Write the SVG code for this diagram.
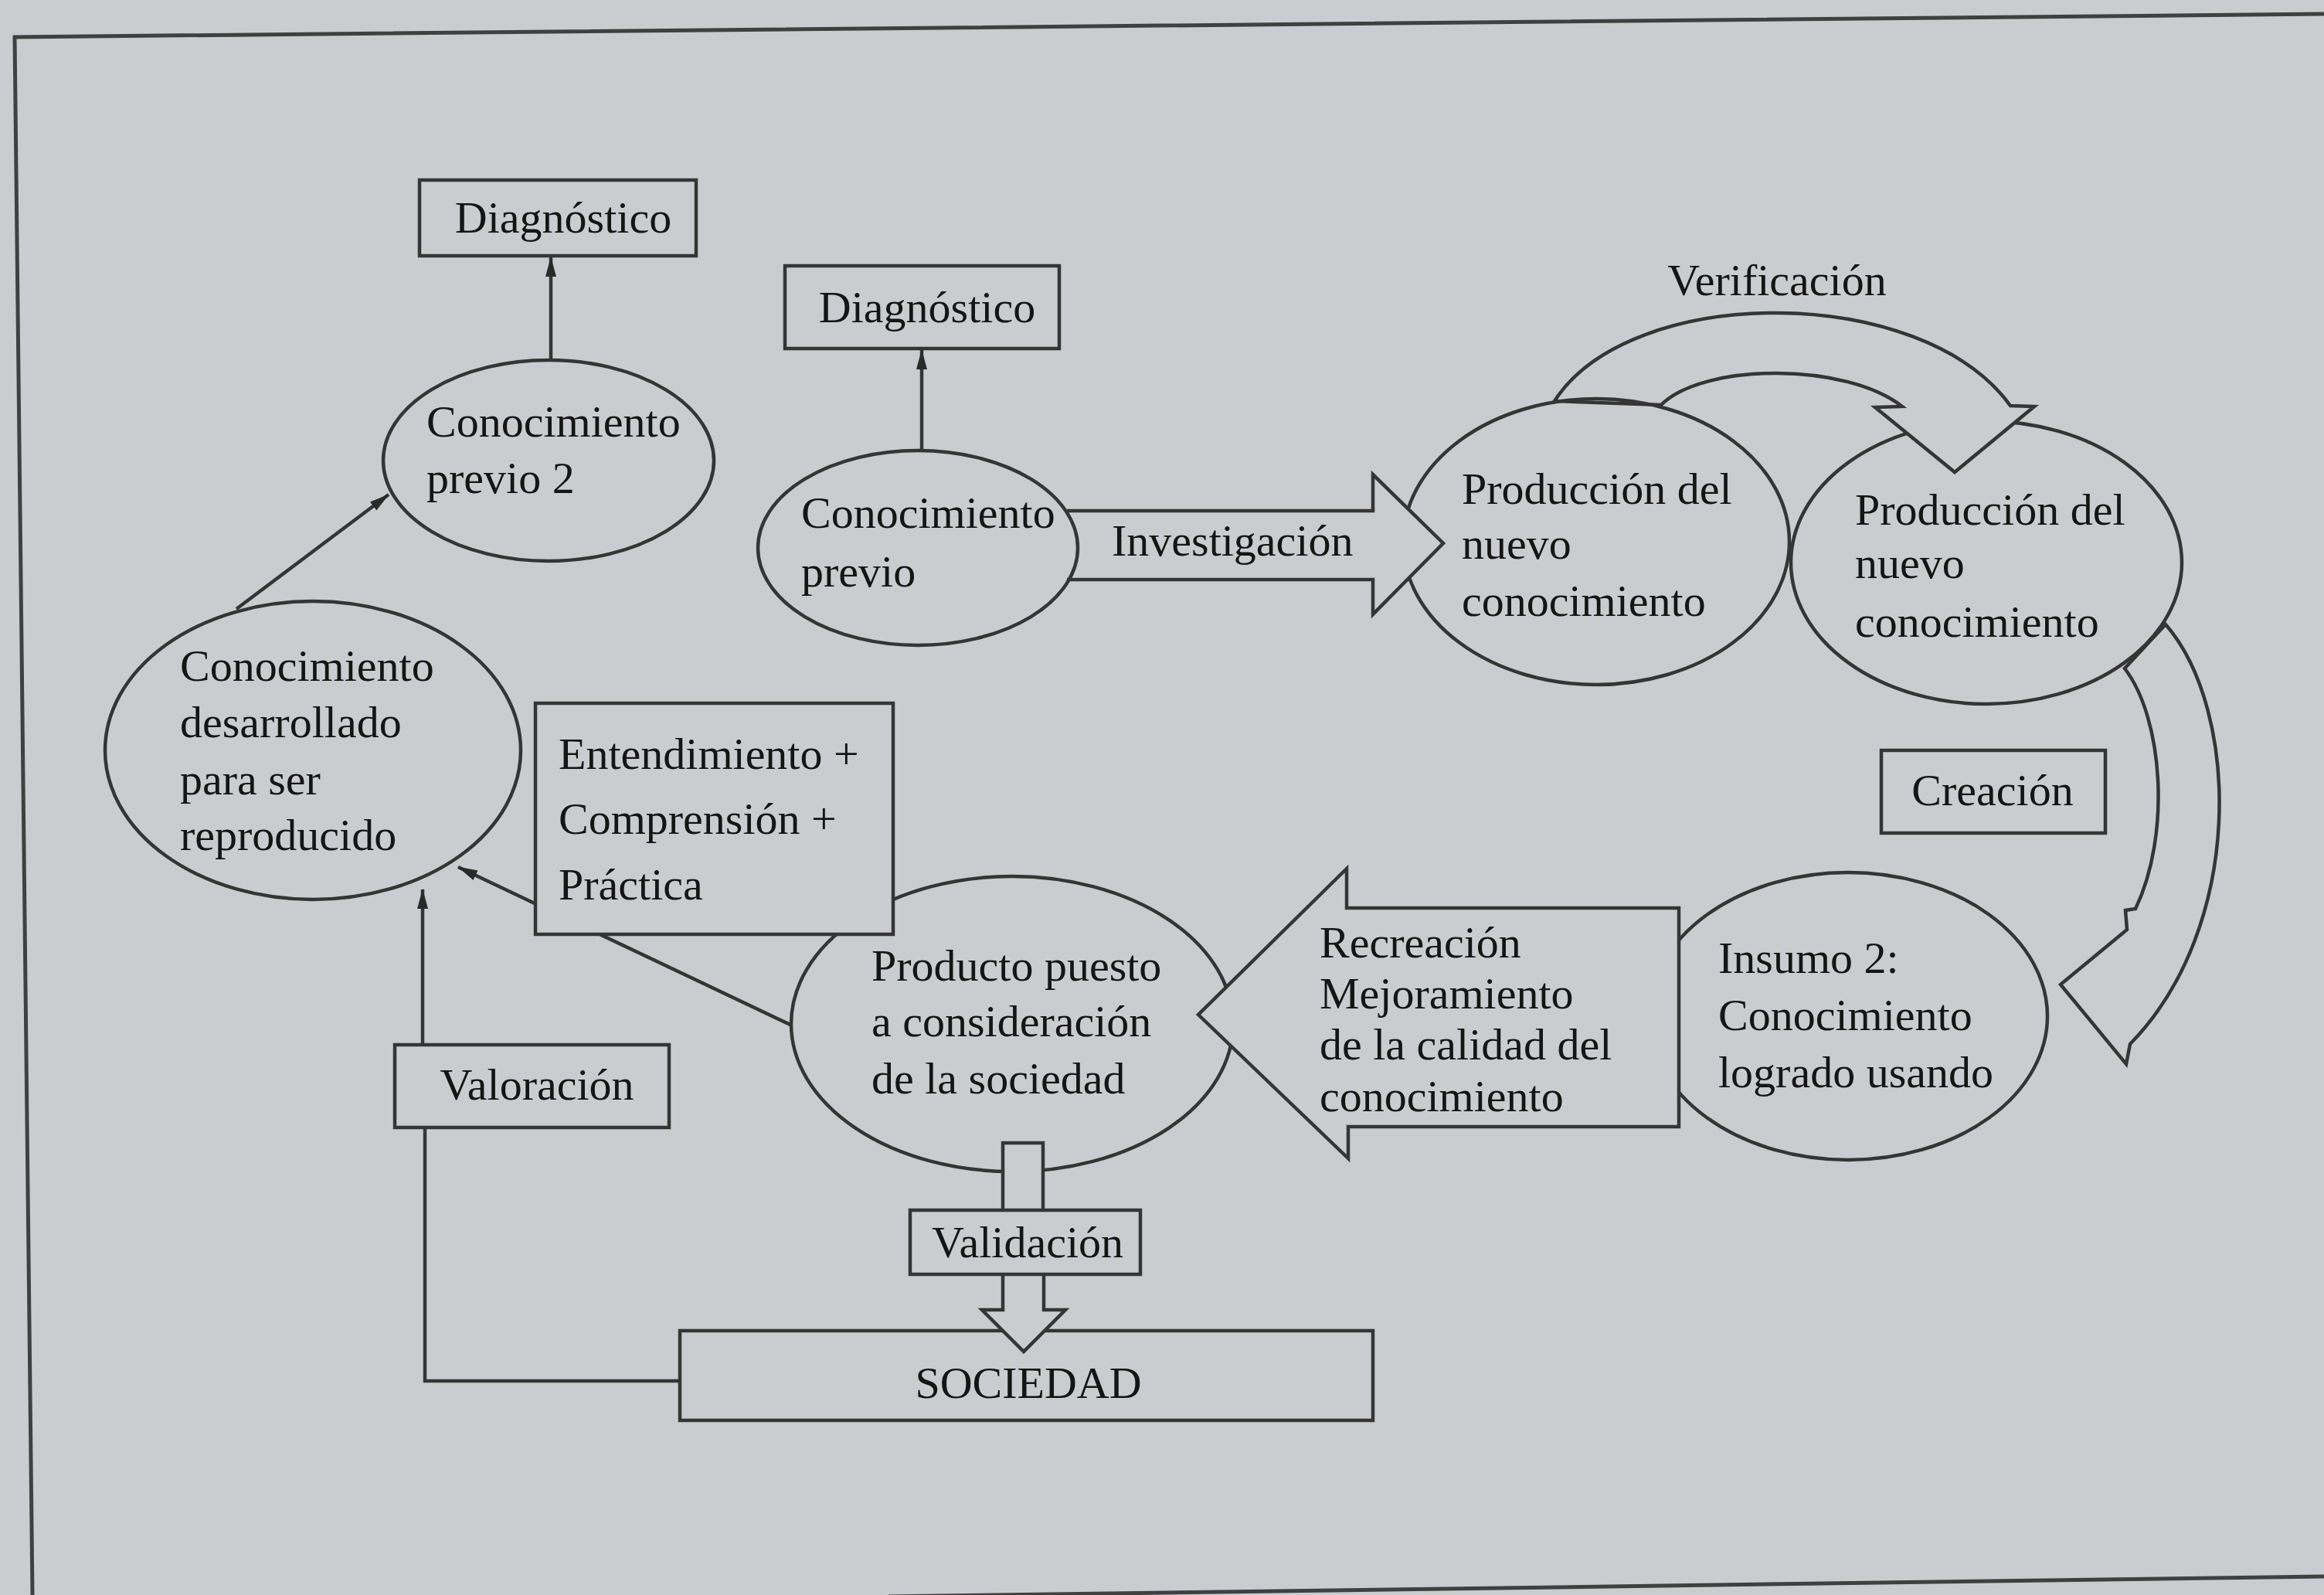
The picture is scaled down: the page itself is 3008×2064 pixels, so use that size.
<svg xmlns="http://www.w3.org/2000/svg" width="3008" height="2064" viewBox="0 0 3008 2064">
<defs>
<style>
.t{font-family:"Liberation Serif","Times New Roman",serif;font-size:58px;fill:#151515}
.m{text-anchor:middle}
.s{fill:none;stroke:#353535;stroke-width:4.5}
.f{fill:#cbccd0;stroke:#353535;stroke-width:4.5;stroke-linejoin:miter}
.fr{fill:none;stroke:#404040;stroke-width:5}
</style>
<marker id="ah" viewBox="0 0 26 16" refX="25" refY="8" markerWidth="26" markerHeight="16" markerUnits="userSpaceOnUse" orient="auto">
<path d="M0,1 L26,8 L0,15 Z" fill="#2a2a2a"/>
</marker>
</defs>
<rect x="0" y="0" width="3008" height="2064" fill="#cbccd0"/>
<g id="frame">
<path class="fr" d="M3008,18 L19,48 L42,2064"/>
<path class="fr" d="M1150,2066 L3008,2040"/>
</g>
<g id="connectors">
<line class="s" x1="713" y1="466" x2="713" y2="333" marker-end="url(#ah)"/>
<line class="s" x1="1193" y1="583" x2="1193" y2="453" marker-end="url(#ah)"/>
<line class="s" x1="306" y1="788" x2="503" y2="640" marker-end="url(#ah)"/>
<line class="s" x1="1025" y1="1327" x2="593" y2="1122" marker-end="url(#ah)"/>
<polyline class="s" points="880,1787 550,1787 550,1459"/>
<line class="s" x1="547" y1="1352" x2="547" y2="1151" marker-end="url(#ah)"/>
</g>
<g id="creacion-arrow">
<path class="f" d="M2803,808 C2900,920 2905,1200 2757,1351 L2752,1377 L2667,1274 L2753,1203 L2751,1178 L2764,1176 C2810,1080 2800,930 2750,865 Z"/>
</g>
<g id="produccion2">
<ellipse class="s" cx="2571" cy="728" rx="253" ry="183"/>
<text class="t" x="2401" y="679">Producción del</text>
<text class="t" x="2401" y="748">nuevo</text>
<text class="t" x="2401" y="824">conocimiento</text>
</g>
<g id="verificacion-arrow">
<path class="f" d="M2012,519 C2110,366 2488,366 2602,525 L2633,526 L2530,611 L2427,527 L2462,526 C2390,469 2205,469 2150,524 Z"/>
<text class="t m" x="2300" y="382">Verificación</text>
</g>
<g id="produccion1">
<ellipse class="s" cx="2066" cy="701" rx="250" ry="185"/>
<text class="t" x="1892" y="652">Producción del</text>
<text class="t" x="1892" y="723">nuevo</text>
<text class="t" x="1892" y="797">conocimiento</text>
</g>
<g id="investigacion-arrow">
<path class="f" d="M1381,661 L1777,661 L1777,614 L1868,703 L1777,795 L1777,750 L1381,750"/>
<text class="t" x="1439" y="719">Investigación</text>
</g>
<g id="conocimiento-previo">
<ellipse class="s" cx="1188" cy="709" rx="207" ry="126"/>
<text class="t" x="1037" y="683">Conocimiento</text>
<text class="t" x="1037" y="759">previo</text>
</g>
<g id="diagnostico2">
<rect class="f" x="1016" y="344" width="355" height="107"/>
<text class="t m" x="1200" y="417">Diagnóstico</text>
</g>
<g id="diagnostico1">
<rect class="f" x="543" y="233" width="358" height="98"/>
<text class="t m" x="729" y="301">Diagnóstico</text>
</g>
<g id="conocimiento-previo-2">
<ellipse class="s" cx="710" cy="596" rx="214" ry="130"/>
<text class="t" x="552" y="565">Conocimiento</text>
<text class="t" x="552" y="638">previo 2</text>
</g>
<g id="conocimiento-desarrollado">
<ellipse class="s" cx="405" cy="971" rx="269" ry="193"/>
<text class="t" x="233" y="881">Conocimiento</text>
<text class="t" x="233" y="954">desarrollado</text>
<text class="t" x="233" y="1028">para ser</text>
<text class="t" x="233" y="1100">reproducido</text>
</g>
<g id="creacion">
<rect class="f" x="2435" y="971" width="290" height="107"/>
<text class="t m" x="2579" y="1042">Creación</text>
</g>
<g id="insumo">
<ellipse class="s" cx="2392" cy="1315" rx="258" ry="186"/>
<text class="t" x="2224" y="1259">Insumo 2:</text>
<text class="t" x="2224" y="1333">Conocimiento</text>
<text class="t" x="2224" y="1407">logrado usando</text>
</g>
<g id="producto">
<ellipse class="s" cx="1310" cy="1325" rx="286" ry="191"/>
<text class="t" x="1128" y="1269">Producto puesto</text>
<text class="t" x="1128" y="1341">a consideración</text>
<text class="t" x="1128" y="1415">de la sociedad</text>
</g>
<g id="entendimiento">
<rect class="f" x="693" y="910" width="463" height="299"/>
<text class="t" x="723" y="995">Entendimiento +</text>
<text class="t" x="723" y="1079">Comprensión +</text>
<text class="t" x="723" y="1164">Práctica</text>
</g>
<g id="recreacion-arrow">
<path class="f" d="M2173,1175 L1743,1175 L1743,1124 L1551,1313 L1745,1499 L1745,1458 L2173,1458 Z"/>
<text class="t" x="1708" y="1239">Recreación</text>
<text class="t" x="1708" y="1305">Mejoramiento</text>
<text class="t" x="1708" y="1371">de la calidad del</text>
<text class="t" x="1708" y="1438">conocimiento</text>
</g>
<g id="valoracion">
<rect class="f" x="511" y="1352" width="355" height="107"/>
<text class="t m" x="695" y="1423">Valoración</text>
</g>
<g id="sociedad">
<rect class="f" x="880" y="1722" width="897" height="116"/>
<text class="t m" x="1331" y="1809">SOCIEDAD</text>
</g>
<g id="validacion-arrow">
<rect class="f" x="1298" y="1479" width="52" height="88"/>
<path class="f" d="M1298,1649 L1298,1695 L1271,1695 L1325,1749 L1379,1695 L1351,1695 L1351,1649"/>
</g>
<g id="validacion">
<rect class="f" x="1178" y="1566" width="298" height="83"/>
<text class="t m" x="1330" y="1627">Validación</text>
</g>
</svg>
